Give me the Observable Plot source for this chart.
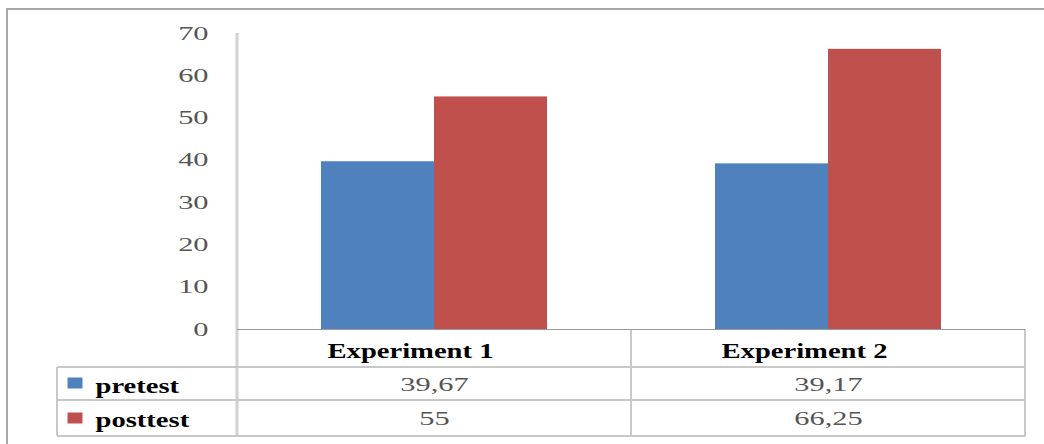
<!DOCTYPE html>
<html>
<head>
<meta charset="utf-8">
<script src="https://cdn.jsdelivr.net/npm/d3@7"></script>
<script src="https://cdn.jsdelivr.net/npm/@observablehq/plot@0.6"></script>
<style>
  html, body { margin: 0; padding: 0; background: #fff; }
  #chart { width: 1044px; height: 444px; }
</style>
</head>
<body>
<div id="chart"></div>
<script>
// ---- data ----
const categories = ["Experiment 1", "Experiment 2"];
const series = ["pretest", "posttest"];
const pretest = [39.67, 39.17];
const posttest = [55, 66.25];
const yTicks = [0, 10, 20, 30, 40, 50, 60, 70];
const colors = ["#4F81BD", "#C0504D"];

const valuesBySeries = { pretest, posttest };
const rows = categories.flatMap((c, i) =>
  series.map((s) => ({ category: c, series: s, value: valuesBySeries[s][i] }))
);
const fmt = (v) => String(v).replace(".", ",");

// ---- layout ----
const W = 1044, H = 444;
const mL = 237, mR = 19, mT = 33, mB = 115;
const rowDy = [55, 89];       // offsets of table rows below the zero line
const swatchDy = [53.5, 88.5];
const swatch = { draw(ctx) { ctx.rect(-7.5, -5.5, 15, 11); } };

const chart = Plot.plot({
  width: W, height: H,
  marginLeft: mL, marginRight: mR, marginTop: mT, marginBottom: mB,
  style: { fontFamily: "'Liberation Serif', serif", fontSize: "19px", color: "#555", background: "transparent" },
  fx: { domain: categories, padding: 0, axis: null, label: null },
  x: { domain: series, paddingInner: 0, paddingOuter: 0.743, axis: null },
  y: { domain: [0, 70], ticks: yTicks, tickSize: 0, tickPadding: 29, tickFormat: (d) => String(d), label: null },
  color: { domain: series, range: colors },
  marks: [
    Plot.barY(rows, { fx: "category", x: "series", y: "value", fill: "series" }),
    Plot.ruleY([0], { stroke: "#9a9a9a", strokeWidth: 1 }),
    // table header
    Plot.text(categories, { fx: (d) => d, frameAnchor: "bottom", lineAnchor: "middle", dx: -24, dy: 21,
      text: (d) => d, fontWeight: "bold", fontSize: 22, fill: "#000" }),
    // table values
    ...series.map((s, i) =>
      Plot.text(rows.filter((r) => r.series === s), { fx: "category", frameAnchor: "bottom", lineAnchor: "middle",
        dy: rowDy[i], text: (d) => fmt(d.value), fill: "#555", fontSize: 19 })
    ),
    // legend column
    ...series.map((s, i) =>
      Plot.text([s], { fx: () => categories[0], frameAnchor: "bottom-left", lineAnchor: "middle", dx: -142,
        dy: rowDy[i] + 1, textAnchor: "start", text: (d) => d, fontWeight: "bold", fontSize: 22, fill: "#000" })
    ),
    ...series.map((s, i) =>
      Plot.dot([s], { fx: () => categories[0], frameAnchor: "bottom-left", dx: -162.5, dy: swatchDy[i],
        symbol: swatch, r: 4, fill: (d) => d, stroke: null })
    )
  ]
});

// widen text horizontally, like the stretched original
chart.querySelectorAll("text").forEach((t) => {
  const bold = t.closest('[font-weight="bold"]') || t.getAttribute("font-weight") === "bold";
  const k = bold ? 1.3 : 1.6;
  const tr = t.getAttribute("transform") || "";
  const xa = t.getAttribute("x");
  let x = 0;
  if (xa !== null && /^-?[\d.]+$/.test(xa)) { x = +xa; t.removeAttribute("x"); }
  t.setAttribute("transform", `${tr} translate(${x},0) scale(${k},1)`);
});

// table grid and frame
const svg = d3.select(chart);
const zeroY = H - mB;          // y of value 0
const topY = mT;               // y of value 70
const right = W - mR;
const mid = mL + (right - mL) / 2;
const g = svg.insert("g", ":first-child").attr("fill", "none");
const line = (x1, y1, x2, y2, stroke, w) =>
  g.append("line").attr("x1", x1).attr("y1", y1).attr("x2", x2).attr("y2", y2)
    .attr("stroke", stroke).attr("stroke-width", w);
// outer frame
line(6, 9, W, 9, "#a8a8a8", 2);
line(7, 9, 7, H, "#a8a8a8", 2);
// axis line through the table
line(mL, topY, mL, 436, "#d2d2d2", 3);
// table rows
line(57, 367, right, 367, "#c8c8c8", 2);
line(57, 400, right, 400, "#c8c8c8", 2);
line(57, 436, right, 436, "#c8c8c8", 2);
line(57, 367, 57, 436, "#c8c8c8", 2);
line(mid, zeroY, mid, 436, "#c8c8c8", 2);
line(right, zeroY, right, 436, "#c8c8c8", 2);

document.getElementById("chart").appendChild(chart);
</script>
</body>
</html>
